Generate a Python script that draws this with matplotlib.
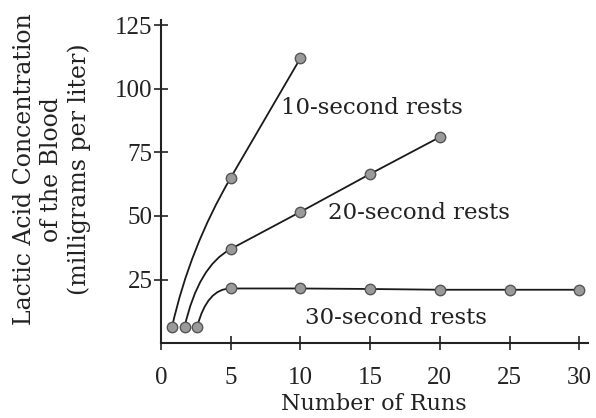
import numpy as np
import matplotlib.pyplot as plt
from matplotlib.path import Path
from matplotlib.patches import PathPatch

plt.rcParams['font.family'] = ['DejaVu Serif']

# Дані
runs_10 = [0.8, 5, 10]
lactic_10 = [6.5, 65, 112]
runs_20 = [1.7, 5, 10, 15, 20]
lactic_20 = [6.5, 37, 51.6, 66.5, 81]
runs_30 = [2.6, 5, 10, 15, 20, 25, 30]
lactic_30 = [6.5, 21.5, 21.5, 21.3, 21, 21, 21]

labels = ['10-second rests', '20-second rests', '30-second rests']
label_pos = [(8.6, 92.5), (12.0, 51), (10.3, 10)]

x_ticks = [0, 5, 10, 15, 20, 25, 30]
y_ticks = [25, 50, 75, 100, 125]

fig = plt.figure(figsize=(5.96, 4.18), dpi=100)
ax = fig.add_axes([0.270, 0.179, 0.716, 0.773])

def draw_series(x, y):
    # перший відрізок -- плавна крива, далі прямі
    slope = (y[2] - y[1]) / (x[2] - x[1])
    cx = x[0] + 0.3 * (x[1] - x[0])
    cy = y[1] - slope * (x[1] - cx)
    path = Path([(x[0], y[0]), (cx, cy), (x[1], y[1])],
                [Path.MOVETO, Path.CURVE3, Path.CURVE3])
    ax.add_patch(PathPatch(path, fill=False, lw=1.3, color='#1a1a1a'))
    ax.plot(x[1:], y[1:], color='#1a1a1a', lw=1.3)
    ax.plot(x, y, 'o', ms=7.5, mfc='#9a9a9a', mec='#555555', mew=1.0, zorder=3)

draw_series(runs_10, lactic_10)
draw_series(runs_20, lactic_20)
draw_series(runs_30, lactic_30)

for lab, (tx, ty) in zip(labels, label_pos):
    ax.text(tx, ty, lab, fontsize=16.5, va='center', ha='left', color='#222222')

ax.set_xlim(0, 30.6)
ax.set_ylim(0, 127)
ax.set_xticks(x_ticks)
ax.set_yticks(y_ticks)
ax.tick_params(direction='inout', length=10, width=1.2, colors='#222222')
ax.tick_params(axis='x', pad=12)
ax.tick_params(axis='y', pad=1)
for t in ax.get_xticklabels() + ax.get_yticklabels():
    t.set_fontfamily('Liberation Serif')
    t.set_fontsize(18)
for s in ['top', 'right']:
    ax.spines[s].set_visible(False)
for s in ['left', 'bottom']:
    ax.spines[s].set_linewidth(1.5)
    ax.spines[s].set_color('#222222')

ax.set_xlabel('Number of Runs', fontsize=16, labelpad=3, color='#222222')
fig.text(0.087, 0.595, 'Lactic Acid Concentration\nof the Blood\n(milligrams per liter)',
         rotation=90, fontsize=17, ha='center', va='center', linespacing=1.22,
         color='#222222')

plt.savefig('out.png', dpi=100)
